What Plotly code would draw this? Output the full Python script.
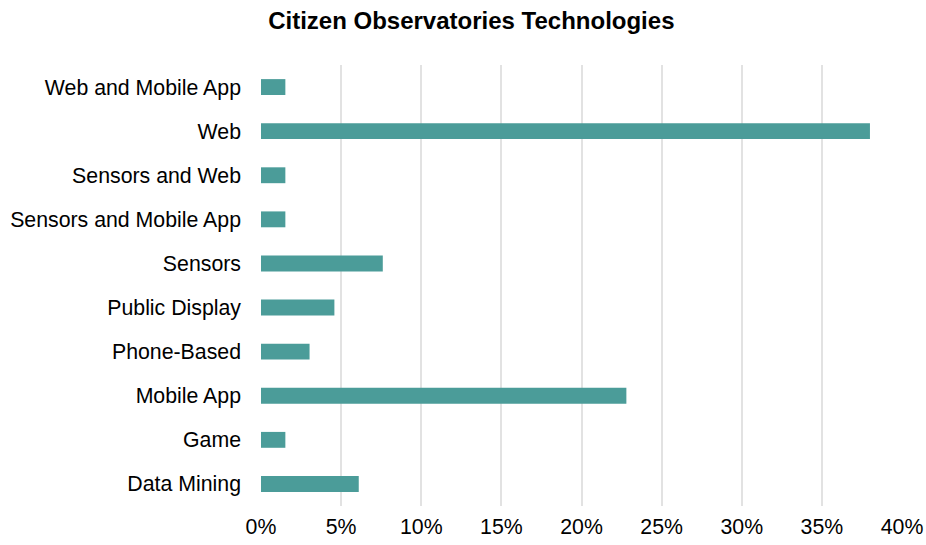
import plotly.graph_objects as go

# Technologies used by citizen observatories (share of projects, %)
categories = [
    "Data Mining",
    "Game",
    "Mobile App",
    "Phone-Based",
    "Public Display",
    "Sensors",
    "Sensors and Mobile App",
    "Sensors and Web",
    "Web",
    "Web and Mobile App",
]
shares = [6.1, 1.52, 22.8, 3.03, 4.58, 7.6, 1.52, 1.52, 38.0, 1.52]
x_ticks = [0, 5, 10, 15, 20, 25, 30, 35, 40]
x_tick_labels = [f"{v}%" for v in x_ticks]

FONT = "Liberation Sans"

fig = go.Figure(
    go.Bar(
        x=shares,
        y=categories,
        orientation="h",
        marker=dict(color="#4b9c99", line=dict(width=0)),
        width=0.36,
        hoverinfo="x+y",
    )
)

fig.update_layout(
    width=926,
    height=545,
    paper_bgcolor="white",
    plot_bgcolor="white",
    margin=dict(l=261, r=24, t=65, b=39, autoexpand=False),
    title=dict(
        text="<b>Citizen Observatories Technologies</b>",
        x=0.509,
        xanchor="center",
        y=0.963,
        yanchor="middle",
        font=dict(family=FONT, size=24, color="#000000"),
    ),
    font=dict(family=FONT, size=21.3, color="#000000"),
    showlegend=False,
    bargap=0.64,
)

fig.update_xaxes(
    range=[0, 40],
    tickvals=x_ticks,
    ticktext=x_tick_labels,
    showgrid=True,
    gridcolor="#e2e2e2",
    gridwidth=2,
    zeroline=False,
    showline=False,
    ticks="",
    ticklabelstandoff=6,
    automargin=False,
)

fig.update_yaxes(
    showgrid=False,
    zeroline=False,
    showline=False,
    ticks="",
    ticklabelstandoff=19,
    automargin=False,
)

fig.write_html("out.html")
